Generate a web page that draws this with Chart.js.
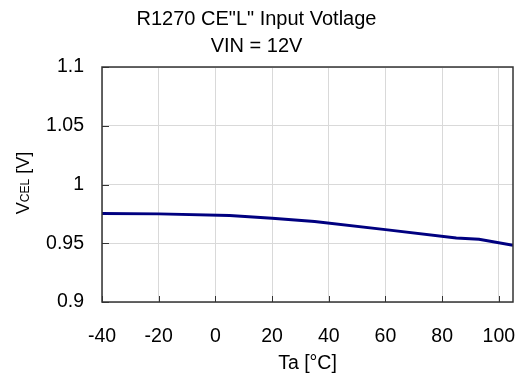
<!DOCTYPE html>
<html>
<head>
<meta charset="utf-8">
<script src="https://cdn.jsdelivr.net/npm/chart.js@4/dist/chart.umd.min.js"></script>
<style>
  html, body { margin: 0; padding: 0; background: #fff; }
  #wrap { width: 523px; height: 379px; }
</style>
</head>
<body>
<div id="wrap"><canvas id="c" width="523" height="379"></canvas></div>
<script>
// data
const titleLines = ['R1270 CE"L" Input Votlage', 'VIN = 12V']
const temps = [-40, -20, 5, 20, 35, 60, 85, 93, 105]
const vcel = [0.9753, 0.9750, 0.9737, 0.9712, 0.9685, 0.9616, 0.9544, 0.9534, 0.9483]
const xTickValues = [-40, -20, 0, 20, 40, 60, 80, 100]
const xTickLabels = ['-40', '-20', '0', '20', '40', '60', '80', '100']
const yTickValues = [0.9, 0.95, 1, 1.05, 1.1]
const yTickLabels = ['0.9', '0.95', '1', '1.05', '1.1']
const xTitle = 'Ta [°C]'

const FONT = "'Liberation Sans', Arial, sans-serif"

// frame, inner tick marks and the y title (V with small CEL)
const decor = {
  id: 'decor',
  afterDraw(chart) {
    const ctx = chart.ctx
    const a = chart.chartArea
    const xs = chart.scales.x, ys = chart.scales.y
    ctx.save()
    ctx.strokeStyle = '#333'
    ctx.lineWidth = 1
    ctx.beginPath()
    xTickValues.forEach(v => {
      const px = Math.round(xs.getPixelForValue(v)) + 0.5
      ctx.moveTo(px, a.bottom)
      ctx.lineTo(px, a.bottom - 6)
    })
    yTickValues.forEach(v => {
      const py = Math.round(ys.getPixelForValue(v)) + 0.5
      ctx.moveTo(a.left, py)
      ctx.lineTo(a.left + 7, py)
    })
    ctx.stroke()
    ctx.lineWidth = 1.5
    ctx.strokeRect(a.left, a.top, a.right - a.left, a.bottom - a.top)

    // y axis title
    ctx.translate(22, 183)
    ctx.rotate(-Math.PI / 2)
    ctx.fillStyle = '#000'
    ctx.textBaseline = 'alphabetic'
    const parts = [['V', '18px ' + FONT], ['CEL', '12px ' + FONT], [' [V]', '18px ' + FONT]]
    let total = 0
    parts.forEach(p => { ctx.font = p[1]; total += ctx.measureText(p[0]).width })
    let cx = -total / 2
    parts.forEach(p => {
      ctx.font = p[1]
      ctx.fillText(p[0], cx, 6.5)
      cx += ctx.measureText(p[0]).width
    })
    ctx.restore()
  }
}

const points = temps.map((t, i) => ({ x: t, y: vcel[i] }))

new Chart(document.getElementById('c').getContext('2d'), {
  type: 'line',
  data: {
    datasets: [{
      label: 'VCEL',
      data: points,
      borderColor: '#000080',
      borderWidth: 3,
      pointRadius: 0,
      tension: 0,
      fill: false
    }]
  },
  options: {
    responsive: false,
    animation: false,
    layout: { padding: { left: 0, right: 10, top: 0, bottom: 0 } },
    plugins: {
      legend: { display: false },
      tooltip: { enabled: false },
      title: {
        display: true,
        text: titleLines,
        color: '#000',
        font: { family: FONT, size: 20, weight: 'normal', lineHeight: 1.35 },
        padding: { top: 6, bottom: 7 }
      }
    },
    scales: {
      x: {
        type: 'linear',
        min: -40,
        max: 105,
        afterFit: s => { s.height = 77; s.paddingRight = 0; s.paddingLeft = 0 },
        afterBuildTicks: s => { s.ticks = xTickValues.map(v => ({ value: v })) },
        ticks: {
          color: '#000',
          padding: 23,
          maxRotation: 0,
          font: { family: FONT, size: 19.5 },
          callback: (v) => xTickLabels[xTickValues.indexOf(v)]
        },
        grid: { color: '#d9d9d9', drawTicks: false },
        border: { display: false },
        title: {
          display: true,
          text: xTitle,
          color: '#000',
          font: { family: FONT, size: 19.5 },
          padding: { top: 0, bottom: 4 }
        }
      },
      y: {
        min: 0.9,
        max: 1.1,
        afterFit: s => { s.width = 102 },
        afterBuildTicks: s => { s.ticks = yTickValues.map(v => ({ value: v })) },
        ticks: {
          color: '#000',
          padding: 18,
          font: { family: FONT, size: 19.5 },
          callback: (v, i) => yTickLabels[i]
        },
        grid: { color: '#d9d9d9', drawTicks: false },
        border: { display: false }
      }
    }
  },
  plugins: [decor]
})
</script>
</body>
</html>
